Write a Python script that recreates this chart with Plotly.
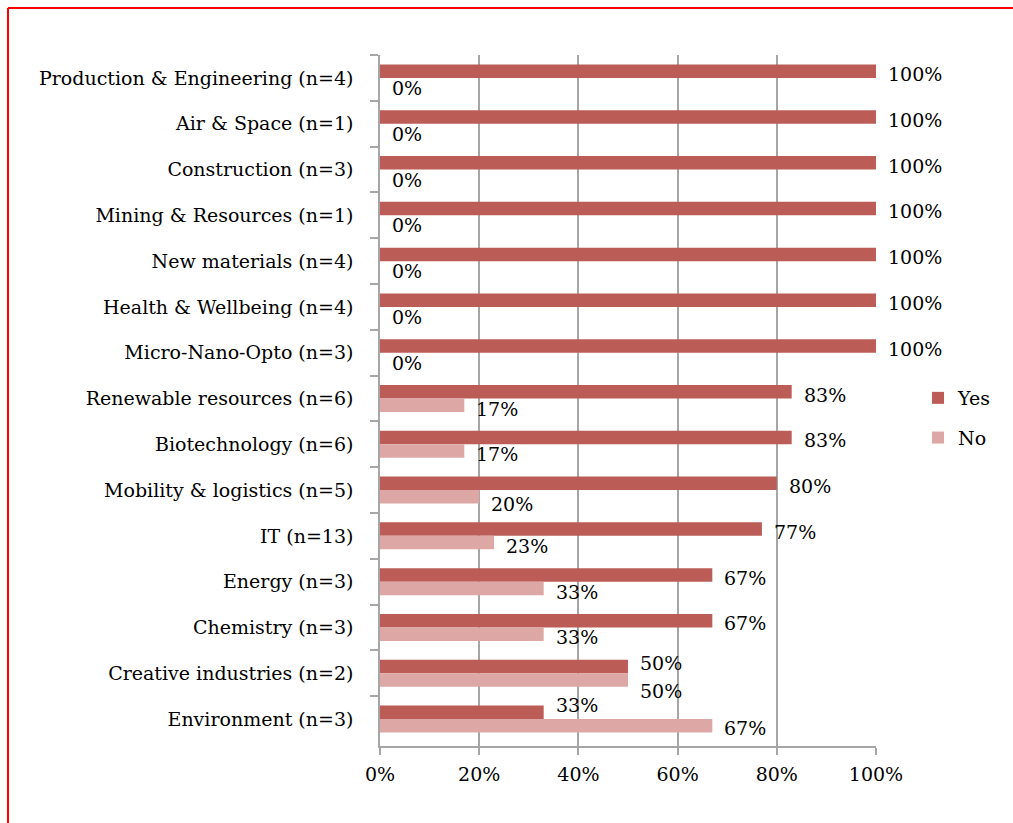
import plotly.graph_objects as go

# Sector categories, listed top to bottom as displayed
categories = [
    "Production & Engineering (n=4)",
    "Air & Space (n=1)",
    "Construction (n=3)",
    "Mining & Resources (n=1)",
    "New materials (n=4)",
    "Health & Wellbeing (n=4)",
    "Micro-Nano-Opto (n=3)",
    "Renewable resources (n=6)",
    "Biotechnology (n=6)",
    "Mobility & logistics (n=5)",
    "IT (n=13)",
    "Energy (n=3)",
    "Chemistry (n=3)",
    "Creative industries (n=2)",
    "Environment (n=3)",
]
yes_share = [1.00, 1.00, 1.00, 1.00, 1.00, 1.00, 1.00, 0.83, 0.83, 0.80, 0.77, 0.67, 0.67, 0.50, 0.33]
no_share = [0.00, 0.00, 0.00, 0.00, 0.00, 0.00, 0.00, 0.17, 0.17, 0.20, 0.23, 0.33, 0.33, 0.50, 0.67]
x_ticks = [0, 0.2, 0.4, 0.6, 0.8, 1.0]

FONT = "Georgia, 'DejaVu Serif', serif"
FS = 19
YES_COLOR = "#BC5C57"
NO_COLOR = "#DCA7A5"
GRID = "#A6A6A6"

W, H = 1013, 823
L, R, T, B = 380, 137, 55, 77

fig = go.Figure()
fig.add_trace(go.Bar(
    y=categories, x=yes_share, name="Yes", orientation="h",
    marker=dict(color=YES_COLOR, line=dict(width=0)),
    legendgroup="yes",
))
fig.add_trace(go.Bar(
    y=categories, x=no_share, name="No", orientation="h",
    marker=dict(color=NO_COLOR, line=dict(width=0)),
    legendgroup="no",
))

# Value labels just past each bar end; vertical offsets (px) from the
# category centre, with extra spacing where two labels would collide
label_dy = {"yes": 4, "no": -10}
crowded = {
    "Creative industries (n=2)": {"yes": 10, "no": -18},
    "Environment (n=3)": {"yes": 14, "no": -9},
    "Mobility & logistics (n=5)": {"yes": 4, "no": -14},
}
for cat, y_val, n_val in zip(categories, yes_share, no_share):
    shifts = crowded.get(cat, label_dy)
    for key, val in (("yes", y_val), ("no", n_val)):
        fig.add_annotation(
            x=val, y=cat, xref="x", yref="y", text=f"{val:.0%}",
            showarrow=False, xanchor="left", yanchor="middle",
            xshift=10, yshift=shifts[key],
            font=dict(family=FONT, size=FS, color="black"),
        )

# Frame lines along the top and left of the page
px = lambda v: (v - L) / (W - L - R)
py = lambda v: (H - B - v) / (H - T - B)
fig.add_shape(type="line", xref="paper", yref="paper",
              x0=px(8), x1=px(1020), y0=py(8), y1=py(8),
              line=dict(color="#FF0000", width=2))
fig.add_shape(type="line", xref="paper", yref="paper",
              x0=px(8), x1=px(8), y0=py(8), y1=py(830),
              line=dict(color="#FF0000", width=2))

fig.update_layout(
    width=W, height=H,
    margin=dict(l=L, r=R, t=T, b=B, autoexpand=False),
    paper_bgcolor="white", plot_bgcolor="white",
    barmode="group", bargap=0.41, bargroupgap=0,
    font=dict(family=FONT, size=FS, color="black"),
    showlegend=True,
    legend=dict(x=px(918), y=py(379), xanchor="left", yanchor="top",
                traceorder="grouped", tracegroupgap=12,
                font=dict(family=FONT, size=FS, color="black")),
)
fig.update_xaxes(
    range=[0, 1], tickvals=x_ticks, tickformat=".0%",
    showgrid=True, gridcolor=GRID, gridwidth=1.5,
    showline=True, linecolor=GRID, linewidth=1.5,
    ticks="outside", ticklen=7, tickcolor=GRID, tickwidth=1.5,
    ticklabelstandoff=3, zeroline=False, fixedrange=True, automargin=False,
)
fig.update_yaxes(
    categoryorder="array", categoryarray=categories, autorange="reversed",
    showline=True, linecolor=GRID, linewidth=1.5,
    ticks="outside", tickson="boundaries", ticklen=8, tickcolor=GRID, tickwidth=1.5,
    ticklabelstandoff=21, showgrid=False, fixedrange=True, automargin=False,
)

fig.write_html("out.html")
